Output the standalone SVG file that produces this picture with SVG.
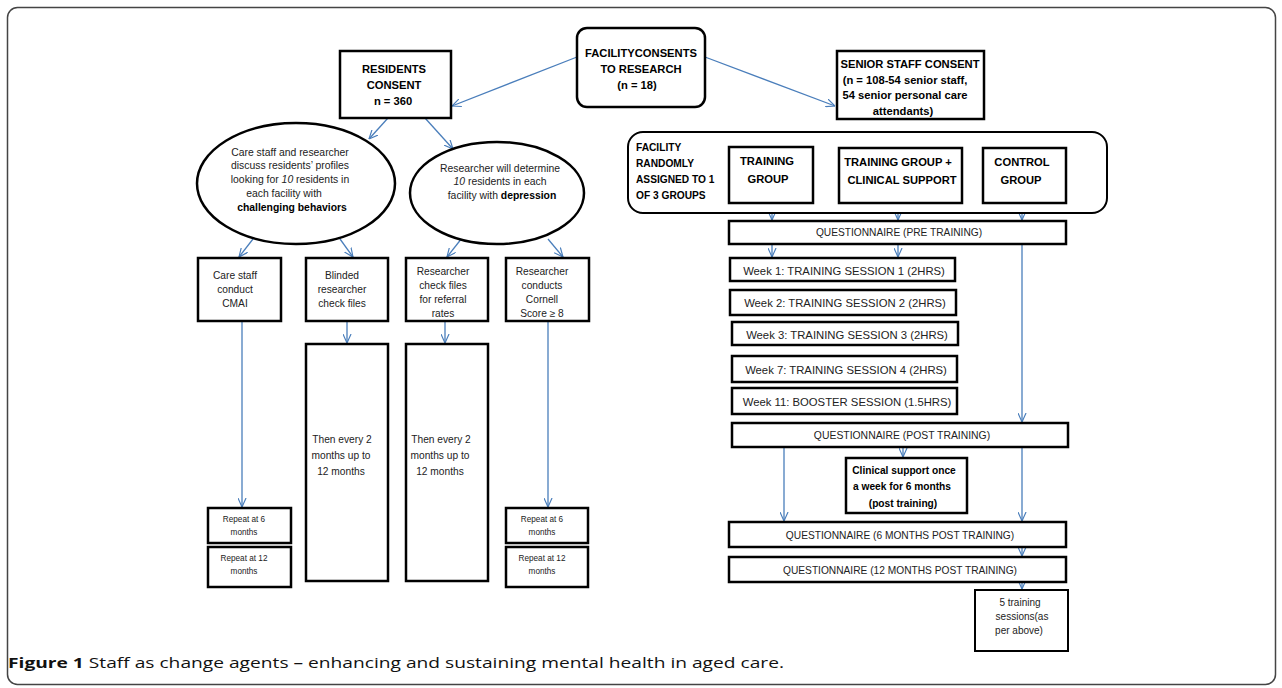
<svg xmlns="http://www.w3.org/2000/svg" width="1282" height="688" viewBox="0 0 1282 688">
<style>
.bx{fill:#fff;stroke:#000;stroke-width:2.5}
.bx2{fill:#fff;stroke:#000;stroke-width:2}
.t{font-family:"Liberation Sans",Arial,sans-serif;fill:#222;text-anchor:middle}
.b{font-family:"Liberation Sans",Arial,sans-serif;fill:#000;font-weight:bold;text-anchor:middle}
.bl{font-family:"Liberation Sans",Arial,sans-serif;fill:#000;font-weight:bold;text-anchor:start}
.c{fill:none;stroke:#4a7ebb;stroke-width:1.3;marker-end:url(#ah)}
</style>
<defs>
<marker id="ah" viewBox="0 0 10 10" refX="10" refY="5" markerWidth="9" markerHeight="9" markerUnits="userSpaceOnUse" orient="auto">
<path d="M0,0.5 L10,5 L0,9.5" fill="none" stroke="#4a7ebb" stroke-width="1.3"/>
</marker>
</defs>
<rect width="1282" height="688" fill="#fff"/>
<rect x="7.5" y="7.5" width="1268" height="677" rx="10" fill="none" stroke="#444" stroke-width="1.5"/>

<g id="connectors">
<path class="c" d="M577,57 L452,106"/>
<path class="c" d="M705,57 L835,106"/>
<path class="c" d="M388,118 L369,139"/>
<path class="c" d="M425,118 L453,149"/>
<path class="c" d="M253,239 L239,257"/>
<path class="c" d="M340,239 L353,257"/>
<path class="c" d="M462,238 L447,257"/>
<path class="c" d="M548,239 L563,257"/>
<path class="c" d="M242,321 L242,507"/>
<path class="c" d="M347,321 L347,343"/>
<path class="c" d="M445,321 L445,343"/>
<path class="c" d="M548,321 L548,507"/>
<path class="c" d="M772,203 L772,220"/>
<path class="c" d="M898,203 L898,220"/>
<path class="c" d="M1022,203 L1022,220"/>
<path class="c" d="M772,244 L772,257"/>
<path class="c" d="M898,244 L898,257"/>
<path class="c" d="M1022,244 L1022,422"/>
<path class="c" d="M903,447 L903,457"/>
<path class="c" d="M784,447 L784,521"/>
<path class="c" d="M1022,447 L1022,521"/>
<path class="c" d="M1022,547 L1022,556"/>
<path class="c" d="M1022,582 L1022,589"/>
</g>

<g id="facility-consents">
<rect class="bx" x="577" y="28" width="128" height="79" rx="10"/>
<text class="b" font-size="11.2"><tspan x="641" y="57">FACILITYCONSENTS</tspan><tspan x="641" y="73">TO RESEARCH</tspan><tspan x="637" y="89">(n = 18)</tspan></text>
</g>

<g id="residents-consent">
<rect class="bx" x="340" y="51" width="111" height="67"/>
<text class="b" font-size="11.2"><tspan x="394" y="73">RESIDENTS</tspan><tspan x="394" y="89">CONSENT</tspan><tspan x="393" y="105">n = 360</tspan></text>
</g>

<g id="senior-staff-consent">
<rect class="bx" x="837" y="51" width="147" height="68"/>
<text class="b" font-size="11.2"><tspan x="910" y="68">SENIOR STAFF CONSENT</tspan><tspan x="905" y="84">(n = 108-54 senior staff,</tspan><tspan x="905" y="99">54 senior personal care</tspan><tspan x="903" y="115">attendants)</tspan></text>
</g>

<g id="challenging-ellipse">
<ellipse class="bx" cx="296" cy="183.5" rx="99" ry="60.5"/>
<text class="t" font-size="10.4"><tspan x="290" y="156">Care staff and researcher</tspan><tspan x="290" y="169">discuss residents’ profiles</tspan><tspan x="290" y="183">looking for  <tspan font-style="italic">10</tspan> residents in</tspan><tspan x="284" y="197">each facility  with</tspan><tspan x="292" y="211" font-weight="bold" fill="#000">challenging behaviors</tspan></text>
</g>

<g id="depression-ellipse">
<ellipse class="bx" cx="497" cy="193" rx="87" ry="51"/>
<text class="t" font-size="10.4"><tspan x="500" y="172">Researcher will determine</tspan><tspan x="500" y="185"><tspan font-style="italic">10</tspan> residents in each</tspan><tspan x="502" y="199">facility  with  <tspan font-weight="bold" fill="#000">depression</tspan></tspan></text>
</g>

<g id="cmai">
<rect class="bx" x="198" y="258" width="83" height="63"/>
<text class="t" font-size="10.2"><tspan x="235" y="279">Care staff</tspan><tspan x="235" y="293">conduct</tspan><tspan x="235" y="307">CMAI</tspan></text>
</g>
<g id="blinded">
<rect class="bx" x="306" y="258" width="82" height="63"/>
<text class="t" font-size="10.2"><tspan x="342" y="279">Blinded</tspan><tspan x="342" y="293">researcher</tspan><tspan x="342" y="307">check files</tspan></text>
</g>
<g id="referral">
<rect class="bx" x="406" y="258" width="82" height="63"/>
<text class="t" font-size="10.2"><tspan x="443" y="275">Researcher</tspan><tspan x="443" y="289">check files</tspan><tspan x="443" y="303">for referral</tspan><tspan x="443" y="317">rates</tspan></text>
</g>
<g id="cornell">
<rect class="bx" x="506" y="258" width="83" height="63"/>
<text class="t" font-size="10.2"><tspan x="542" y="275">Researcher</tspan><tspan x="542" y="289">conducts</tspan><tspan x="542" y="303">Cornell</tspan><tspan x="542" y="317">Score ≥ 8</tspan></text>
</g>

<g id="every2-a">
<rect class="bx" x="306" y="344" width="82" height="237"/>
<text class="t" font-size="10.2"><tspan x="342" y="443">Then every 2</tspan><tspan x="341" y="459">months up to</tspan><tspan x="341" y="475">12 months</tspan></text>
</g>
<g id="every2-b">
<rect class="bx" x="406" y="344" width="82" height="237"/>
<text class="t" font-size="10.2"><tspan x="441" y="443">Then every 2</tspan><tspan x="440" y="459">months up to</tspan><tspan x="440" y="475">12 months</tspan></text>
</g>

<g id="repeat6-left">
<rect class="bx" x="208" y="508" width="83" height="35"/>
<text class="t" font-size="8.2"><tspan x="244" y="522">Repeat at 6</tspan><tspan x="244" y="535">months</tspan></text>
</g>
<g id="repeat12-left">
<rect class="bx" x="208" y="547" width="83" height="40"/>
<text class="t" font-size="8.2"><tspan x="244" y="561">Repeat at 12</tspan><tspan x="244" y="574">months</tspan></text>
</g>
<g id="repeat6-right">
<rect class="bx" x="506" y="508" width="82" height="35"/>
<text class="t" font-size="8.2"><tspan x="542" y="522">Repeat at 6</tspan><tspan x="542" y="535">months</tspan></text>
</g>
<g id="repeat12-right">
<rect class="bx" x="506" y="547" width="82" height="40"/>
<text class="t" font-size="8.2"><tspan x="542" y="561">Repeat at 12</tspan><tspan x="542" y="574">months</tspan></text>
</g>

<g id="randomly-assigned">
<rect class="bx2" x="628" y="132" width="479" height="81" rx="15"/>
<text class="bl" font-size="10.2"><tspan x="636" y="151">FACILITY</tspan><tspan x="636" y="167">RANDOMLY</tspan><tspan x="636" y="183">ASSIGNED TO 1</tspan><tspan x="636" y="199">OF 3 GROUPS</tspan></text>
</g>
<g id="training-group">
<rect class="bx" x="729" y="147" width="84" height="56"/>
<text class="b" font-size="11.2"><tspan x="767" y="165">TRAINING</tspan><tspan x="768" y="183">GROUP</tspan></text>
</g>
<g id="training-clinical">
<rect class="bx" x="839" y="148" width="123" height="55"/>
<text class="b" font-size="11.2"><tspan x="898" y="166">TRAINING GROUP +</tspan><tspan x="902" y="184">CLINICAL SUPPORT</tspan></text>
</g>
<g id="control-group">
<rect class="bx" x="983" y="148" width="83" height="55"/>
<text class="b" font-size="11.2"><tspan x="1022" y="166">CONTROL</tspan><tspan x="1021" y="184">GROUP</tspan></text>
</g>

<g id="q-pre">
<rect class="bx" x="729" y="221" width="337" height="23"/>
<text class="t" font-size="10.2" x="899" y="236">QUESTIONNAIRE (PRE TRAINING)</text>
</g>
<g id="week1">
<rect class="bx" x="730" y="258" width="225" height="23"/>
<text class="t" font-size="11.3" x="844" y="275">Week 1: TRAINING SESSION 1 (2HRS)</text>
</g>
<g id="week2">
<rect class="bx" x="730" y="290" width="226" height="25"/>
<text class="t" font-size="11.3" x="845" y="307">Week 2: TRAINING SESSION 2 (2HRS)</text>
</g>
<g id="week3">
<rect class="bx" x="732" y="322" width="226" height="23"/>
<text class="t" font-size="11.3" x="847" y="339">Week 3: TRAINING SESSION 3 (2HRS)</text>
</g>
<g id="week7">
<rect class="bx" x="732" y="356" width="225" height="26"/>
<text class="t" font-size="11.3" x="846" y="374">Week 7: TRAINING SESSION 4 (2HRS)</text>
</g>
<g id="week11">
<rect class="bx" x="732" y="388" width="225" height="26"/>
<text class="t" font-size="11.3" x="847" y="406">Week 11: BOOSTER SESSION (1.5HRS)</text>
</g>
<g id="q-post">
<rect class="bx" x="732" y="423" width="336" height="24"/>
<text class="t" font-size="10.4" x="902" y="439">QUESTIONNAIRE (POST TRAINING)</text>
</g>
<g id="clinical-support">
<rect class="bx" x="846" y="458" width="121" height="55"/>
<text class="b" font-size="10.2"><tspan x="904" y="474">Clinical support once</tspan><tspan x="902" y="490">a week for 6 months</tspan><tspan x="903" y="507">(post training)</tspan></text>
</g>
<g id="q-6">
<rect class="bx" x="729" y="522" width="337" height="25"/>
<text class="t" font-size="10.2" x="900" y="539">QUESTIONNAIRE (6 MONTHS POST TRAINING)</text>
</g>
<g id="q-12">
<rect class="bx" x="729" y="557" width="337" height="25"/>
<text class="t" font-size="10.2" x="900" y="574">QUESTIONNAIRE (12 MONTHS POST TRAINING)</text>
</g>
<g id="five-sessions">
<rect class="bx2" x="975" y="590" width="93" height="61"/>
<text class="t" font-size="10"><tspan x="1020" y="606">5 training</tspan><tspan x="1022" y="620">sessions(as</tspan><tspan x="1019" y="634">per above)</tspan></text>
</g>

<text x="8" y="668" font-family="'Open Sans','Liberation Sans',sans-serif" font-size="14" fill="#111" textLength="776" lengthAdjust="spacingAndGlyphs"><tspan font-weight="bold">Figure 1</tspan> Staff as change agents – enhancing and sustaining mental health in aged care.</text>
</svg>
